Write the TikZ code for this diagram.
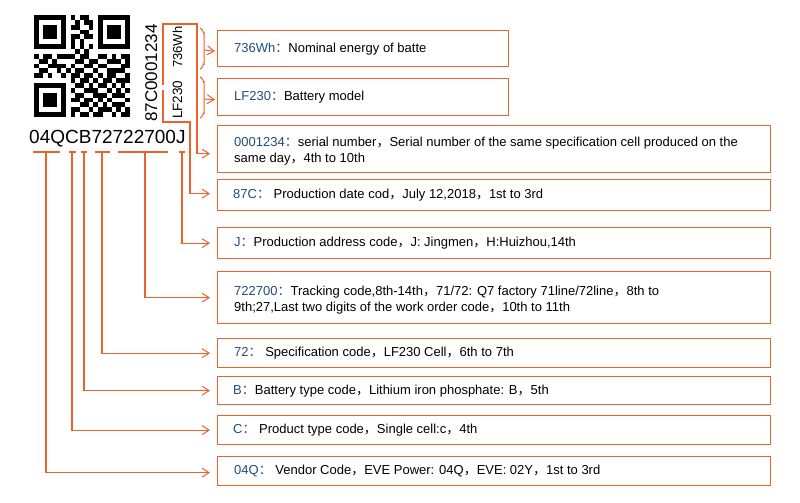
\documentclass[tikz,border=0pt]{standalone}
\usepackage{fontspec}
\setmainfont{Liberation Sans}
\newfontfamily\cjk{Noto Sans CJK SC}
\usetikzlibrary{arrows.meta}
\definecolor{eveorange}{RGB}{234,98,44}
\definecolor{eveblue}{RGB}{31,78,121}
\newcommand\fc{{\cjk ，}}
\newcommand\lab[1]{\textcolor{eveblue}{#1{\cjk ：}}}
\begin{document}
\begin{tikzpicture}[x=1pt,y=-1pt,
  box/.style={draw=eveorange, line width=1.3pt, anchor=north west, inner sep=0pt},
  txt/.style={anchor=west, inner sep=0pt, font=\fontsize{13}{16}\selectfont, align=left},
  conn/.style={draw=eveorange, line width=1.2pt},
  arr/.style={-{Straight Barb[length=7pt,width=9pt,line width=1pt]}},
  rot/.style={rotate=90, anchor=base west, inner sep=0pt}
]
\useasboundingbox (0,0) rectangle (800,503);

% ---- QR code (21 x 21 modules) ----
\foreach \qj/\cols in {
  0/{8,10,11}, 1/{9,11,12}, 2/{8,9,12}, 3/{10,11}, 4/{8,9,11,12}, 5/{8,10},
  6/{8,10,12}, 7/{9,11},
  8/{0,2,3,5,6,7,8,10,11,14,15,17,19,20},
  9/{1,2,4,9,10,12,13,16,17,18,20},
  10/{0,3,4,5,6,8,11,12,14,15,19,20},
  11/{1,2,5,7,9,10,13,16,17,18,19},
  12/{0,1,3,6,8,9,11,12,14,16,17,20},
  13/{8,10,11,13,15,16,18,19,20},
  14/{9,10,12,14,15,17,19},
  15/{8,11,12,13,16,18,20},
  16/{9,10,13,14,15,17,18,19},
  17/{8,9,11,12,14,16,20},
  18/{10,11,13,15,17,18,19},
  19/{8,9,12,14,15,16,18,20},
  20/{8,10,11,13,14,17,19,20}}{
  \foreach \qi in \cols {
    \fill[black] ({34+\qi*4.571},{15+\qj*4.857}) rectangle ++(4.62,4.9);
  }
}
\foreach \fx/\fy in {0/0,14/0,0/14}{
  \fill[black] ({34+\fx*4.571},{15+\fy*4.857}) rectangle ++({7*4.571},{7*4.857});
  \fill[white] ({34+(\fx+1)*4.571},{15+(\fy+1)*4.857}) rectangle ++({5*4.571},{5*4.857});
  \fill[black] ({34+(\fx+2)*4.571},{15+(\fy+2)*4.857}) rectangle ++({3*4.571},{3*4.857});
}

% ---- code texts ----
\node[anchor=base west, inner sep=0pt, font=\fontsize{19}{19}\selectfont] (code) at (29,143) {04QCB72722700J};
\node[rot, font=\fontsize{17}{17}\selectfont] (sn) at (157,122) {87C0001234};
\node[rot, font=\fontsize{13}{13}\selectfont] (wh) at (182,68) {736Wh};
\node[rot, font=\fontsize{13.5}{13.5}\selectfont] (lf) at (182,119) {LF230};

% ---- boxes ----
\node[box, minimum width=291pt, minimum height=36pt] (b1) at (217,30) {};
\node[box, minimum width=291pt, minimum height=37pt] (b2) at (217,78) {};
\node[box, minimum width=553pt, minimum height=47pt] (b3) at (217,125) {};
\node[box, minimum width=553pt, minimum height=31pt] (b4) at (217,179) {};
\node[box, minimum width=553pt, minimum height=31pt] (b5) at (217,227) {};
\node[box, minimum width=553pt, minimum height=52pt] (b6) at (217,271) {};
\node[box, minimum width=553pt, minimum height=29pt] (b7) at (217,338) {};
\node[box, minimum width=553pt, minimum height=28pt] (b8) at (217,376) {};
\node[box, minimum width=553pt, minimum height=29pt] (b9) at (217,415) {};
\node[box, minimum width=553pt, minimum height=29pt] (b10) at (217,456) {};

\node[txt] (t1) at ([xshift=17]b1.west) {\lab{736Wh}Nominal energy of batte};
\node[txt] (t2) at ([xshift=17]b2.west) {\lab{LF230}Battery model};
\node[txt] (t3) at ([xshift=17,yshift=-2]b3.west) {\lab{0001234}serial number\fc Serial number of the same specification cell produced on the\\same day\fc 4th to 10th};
\node[txt] (t4) at ([xshift=16]b4.west) {\lab{87C}\ Production date cod\fc July 12,2018\fc 1st to 3rd};
\node[txt] (t5) at ([xshift=17]b5.west) {\lab{J}Production address code\fc J: Jingmen\fc H:Huizhou,14th};
\node[txt] (t6) at ([xshift=17,yshift=-2]b6.west) {\lab{722700}Tracking code,8th-14th\fc 71/72: Q7 factory 71line/72line\fc 8th to\\9th;27,Last two digits of the work order code\fc 10th to 11th};
\node[txt] (t7) at ([xshift=17]b7.west) {\lab{72}\ Specification code\fc LF230 Cell\fc 6th to 7th};
\node[txt] (t8) at ([xshift=16]b8.west) {\lab{B}Battery type code\fc Lithium iron phosphate: B\fc 5th};
\node[txt] (t9) at ([xshift=16]b9.west) {\lab{C}\ Product type code\fc Single cell:c\fc 4th};
\node[txt] (t10) at ([xshift=17]b10.west) {\lab{04Q}\ Vendor Code\fc EVE Power: 04Q\fc EVE: 02Y\fc 1st to 3rd};

% ---- brackets under the code ----
\coordinate (u04) at (46,152);
\coordinate (uC) at (72,152);
\coordinate (uB) at (84,152);
\coordinate (u72) at (102,152);
\coordinate (uT) at (145,152);
\coordinate (uJ) at (182,152);
\draw[conn] (33,152) -- (60,152);
\draw[conn] (69,152) -- (76,152);
\draw[conn] (81,152) -- (87,152);
\draw[conn] (95,152) -- (110,152);
\draw[conn] (118,152) -- (168,152);
\draw[conn] (179,152) -- (185,152);

\draw[conn,arr] (u04) |- ([xshift=-7,yshift=-1.5]b10.west);
\draw[conn,arr] (uC) |- ([xshift=-7]b9.west);
\draw[conn,arr] (uB) |- ([xshift=-7]b8.west);
\draw[conn,arr] (u72) |- ([xshift=-7]b7.west);
\draw[conn,arr] (uT) |- ([xshift=-7]b6.west);
\draw[conn,arr] (uJ) |- ([xshift=-7]b5.west);

% ---- brackets beside the rotated serial ----
\coordinate (s1) at (163,85);
\coordinate (s2) at (163,90);
\draw[conn,arr] (s1) -- (163,24) -- (197,24) |- ([xshift=-7,yshift=-4.5]b3.west);
\draw[conn,arr] (s2) -- (163,122) -- (190,122) |- ([xshift=-7,yshift=1.5]b4.west);

% ---- braces beside 736Wh and LF230 ----
\draw[conn, line width=1pt] (200,28) to[out=0,in=-90] (204,33) -- (204,64) to[out=90,in=0] (200,69);
\coordinate (br1) at (204,50);
\draw[conn, line width=1pt] (200,77) to[out=0,in=-90] (204,82) -- (204,113) to[out=90,in=0] (200,118);
\coordinate (br2) at (204,99);
\draw[conn,arr,line width=1pt] (br1) -- ([xshift=-2,yshift=-2.5]b1.west);
\draw[conn,arr,line width=1pt] (br2) -- ([xshift=-2,yshift=-2.5]b2.west);
\end{tikzpicture}
\end{document}
